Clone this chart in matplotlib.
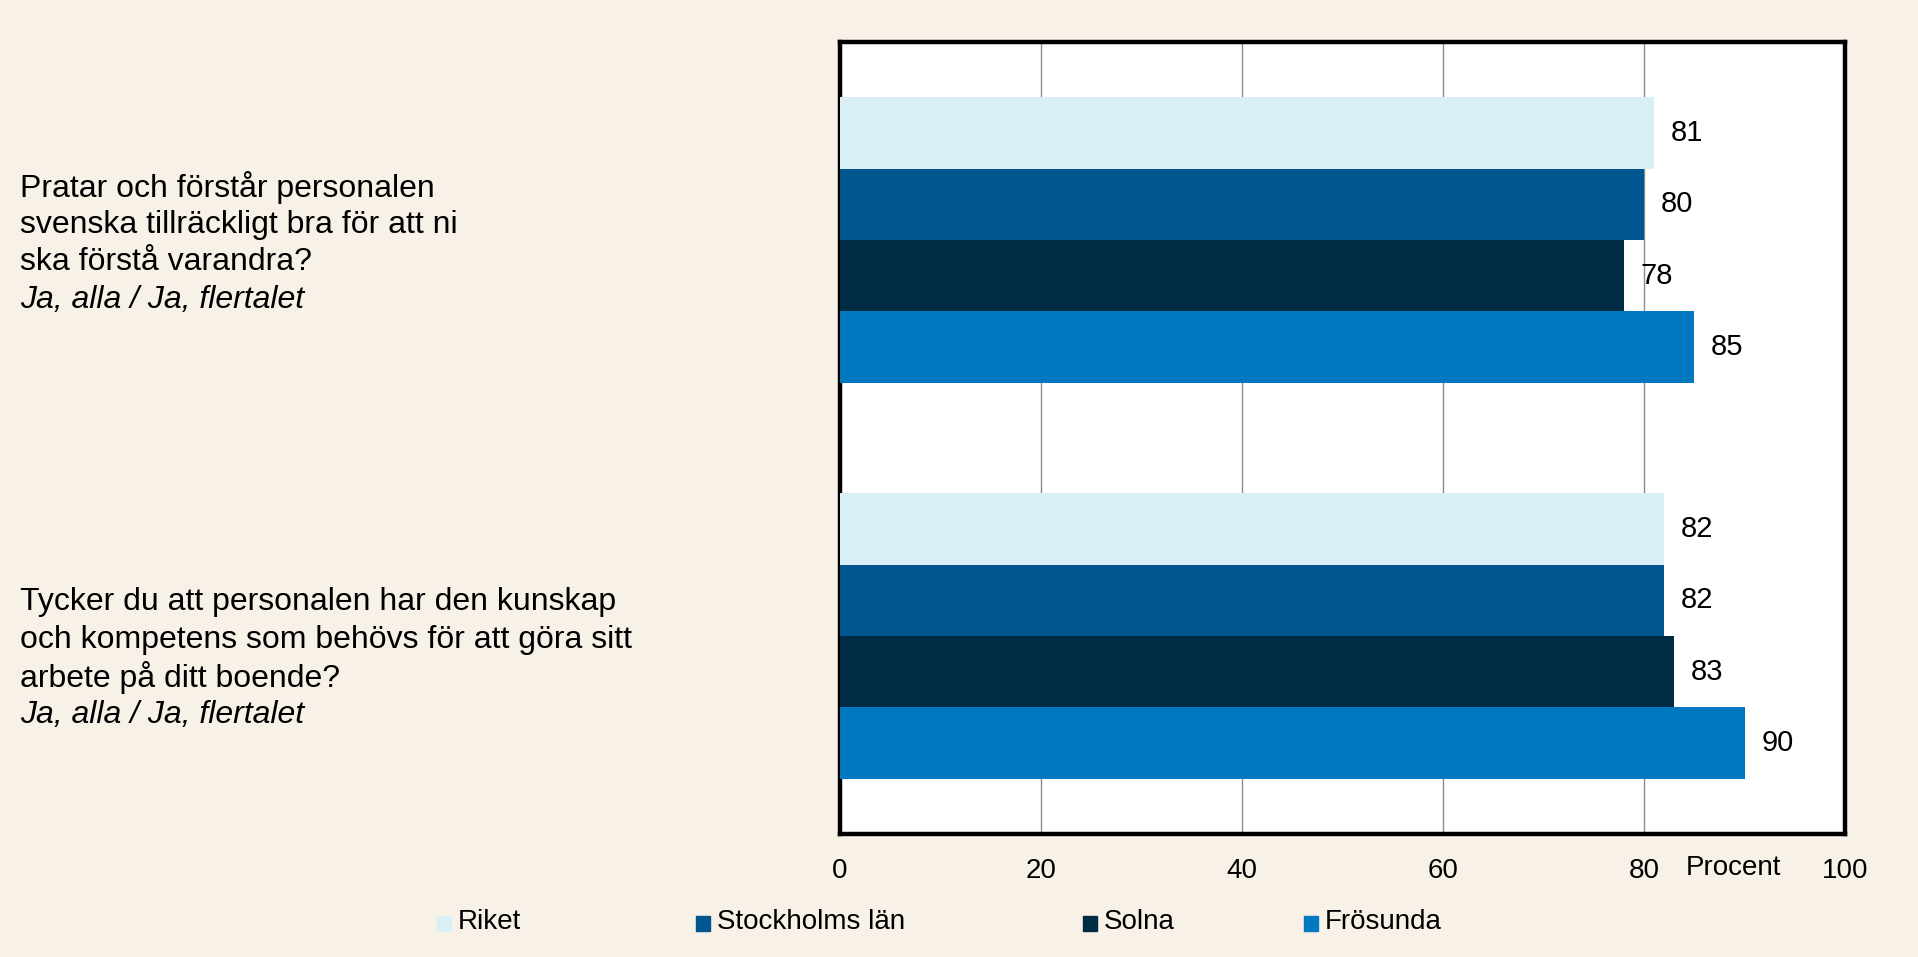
import matplotlib.pyplot as plt
import matplotlib.transforms as mtrans
from matplotlib.patches import Rectangle

plt.rcParams['font.family'] = ['Liberation Sans', 'DejaVu Sans']

# data
question_lines = [
    ["Pratar och förstår personalen",
     "svenska tillräckligt bra för att ni",
     "ska förstå varandra?"],
    ["Tycker du att personalen har den kunskap",
     "och kompetens som behövs för att göra sitt",
     "arbete på ditt boende?"],
]
answer_note = "Ja, alla / Ja, flertalet"
series = ["Riket", "Stockholms län", "Solna", "Frösunda"]
riket = [81, 82]
stockholm = [80, 82]
solna = [78, 83]
frosunda = [85, 90]
values = [riket, stockholm, solna, frosunda]
xticks = [0, 20, 40, 60, 80, 100]

colors = ["#daeef5", "#00568f", "#002b45", "#0079c1"]
bg = "#f8f1e8"

fig = plt.figure(figsize=(19.18, 9.57), dpi=100, facecolor=bg)
ax = fig.add_axes([840 / 1918, 1 - 834 / 957, 1005 / 1918, 792 / 957])
ax.set_facecolor("white")

bar_h = 0.18
for i, (name, vals) in enumerate(zip(series, values)):
    ys = [q + (i - 1.5) * bar_h for q in range(len(question_lines))]
    bars = ax.barh(ys, vals, height=bar_h, color=colors[i], edgecolor="none", zorder=3)
    for b, v in zip(bars, vals):
        ax.annotate(str(v), (v, b.get_y() + bar_h / 2), xytext=(12, 0),
                    textcoords="offset points", va="center", ha="left", fontsize=21)

ax.set_xlim(0, 100)
ax.set_ylim(1.5, -0.5)
ax.set_yticks([])
ax.set_xticks(xticks)
ax.set_xticklabels([str(t) for t in xticks], fontsize=20)
ax.tick_params(axis="x", length=0, pad=17)
ax.grid(axis="x", color="#8c8c8c", linewidth=1, zorder=0)
for s in ax.spines.values():
    s.set_linewidth(3.2)
    s.set_color("black")

ax.text(0.889, -0.043, "Procent", transform=ax.transAxes, ha="center", va="center", fontsize=20)

# question labels on the left, one line at a time
trans = mtrans.blended_transform_factory(fig.transFigure, ax.transData)
first_line = [-0.133, -0.085]
step = 0.0945
for q, lines in enumerate(question_lines):
    y0 = q + first_line[q]
    for k, line in enumerate(lines):
        fig.text(20 / 1918, y0 + k * step, line, ha="left", va="center",
                 fontsize=23, transform=trans)
    fig.text(20 / 1918, y0 + len(lines) * step, answer_note, ha="left", va="center",
             fontsize=23, style="italic", transform=trans)

# legend
leg_x = [437, 696, 1083, 1304]
for name, c, lx in zip(series, colors, leg_x):
    fig.add_artist(Rectangle((lx / 1918, 1 - 931 / 957), 14 / 1918, 15 / 957,
                             transform=fig.transFigure, color=c))
    fig.text((lx + 21) / 1918, 1 - 922 / 957, name, ha="left", va="center", fontsize=20)

fig.savefig("out.png", dpi=100, facecolor=bg)
